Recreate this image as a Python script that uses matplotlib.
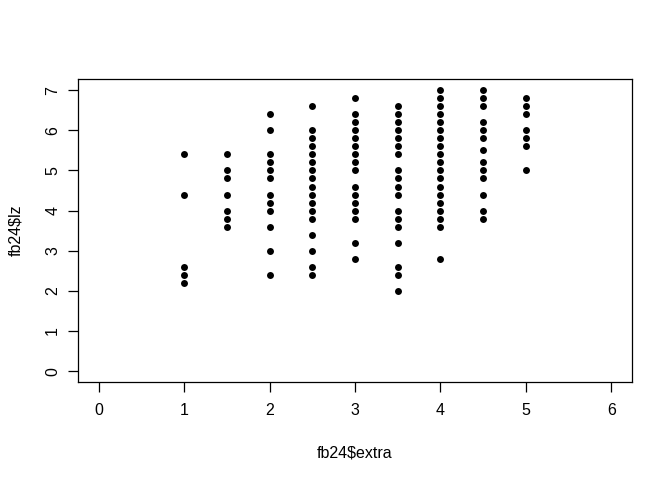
import matplotlib
matplotlib.use("Agg")
import matplotlib.pyplot as plt

# x levels of fb24$extra and the fb24$lz values observed at each level
extra_levels = [1.0, 1.5, 2.0, 2.5, 3.0, 3.5, 4.0, 4.5, 5.0]
lz_extra_1_0 = [5.4, 4.4, 2.6, 2.4, 2.2]
lz_extra_1_5 = [5.4, 5.0, 4.8, 4.4, 4.0, 3.8, 3.6]
lz_extra_2_0 = [6.4, 6.0, 5.4, 5.2, 5.0, 4.8, 4.4, 4.2, 4.0, 3.6, 3.0, 2.4]
lz_extra_2_5 = [6.6, 6.0, 5.8, 5.6, 5.4, 5.2, 5.0, 4.8, 4.6, 4.4, 4.2, 4.0, 3.8,
                3.4, 3.0, 2.6, 2.4]
lz_extra_3_0 = [6.8, 6.4, 6.2, 6.0, 5.8, 5.6, 5.4, 5.2, 5.0, 4.6, 4.4, 4.2, 4.0,
                3.8, 3.2, 2.8]
lz_extra_3_5 = [6.6, 6.4, 6.2, 6.0, 5.8, 5.6, 5.4, 5.0, 4.8, 4.6, 4.4, 4.0, 3.8,
                3.6, 3.2, 2.6, 2.4, 2.0]
lz_extra_4_0 = [7.0, 6.8, 6.6, 6.4, 6.2, 6.0, 5.8, 5.6, 5.4, 5.2, 5.0, 4.8, 4.6,
                4.4, 4.2, 4.0, 3.8, 3.6, 2.8]
lz_extra_4_5 = [7.0, 6.8, 6.6, 6.2, 6.0, 5.8, 5.5, 5.2, 5.0, 4.8, 4.4, 4.0, 3.8]
lz_extra_5_0 = [6.8, 6.6, 6.4, 6.0, 5.8, 5.6, 5.0]

lz_groups = [lz_extra_1_0, lz_extra_1_5, lz_extra_2_0, lz_extra_2_5, lz_extra_3_0,
             lz_extra_3_5, lz_extra_4_0, lz_extra_4_5, lz_extra_5_0]

x_ticks = [0, 1, 2, 3, 4, 5, 6]
y_ticks = [0, 1, 2, 3, 4, 5, 6, 7]
x_label = r"fb24\$extra"
y_label = r"fb24\$lz"

extra = []
lz = []
for lvl, vals in zip(extra_levels, lz_groups):
    extra.extend([lvl] * len(vals))
    lz.extend(vals)

plt.rcParams['font.family'] = ['Liberation Sans', 'DejaVu Sans']

fig = plt.figure(figsize=(6.72, 4.8), dpi=100)
ax = fig.add_axes([78.3 / 672, 1 - 382.3 / 480, (631.7 - 78.3) / 672, (382.3 - 79) / 480])

ax.plot(extra, lz, linestyle='none', marker='o', markersize=5.0,
        color='black', markeredgewidth=0)

ax.set_xlim(-0.24, 6.24)
ax.set_ylim(-0.28, 7.28)
ax.set_xticks(x_ticks)
ax.set_yticks(y_ticks)
fs = 11.5
ax.set_xticklabels([str(t) for t in x_ticks], fontsize=fs)
ax.set_yticklabels([str(t) for t in y_ticks], fontsize=fs, rotation=90, va='center')
ax.tick_params(axis='both', direction='out', length=7, width=0.9, color='black')
ax.tick_params(axis='x', pad=8)
ax.tick_params(axis='y', pad=6)
for s in ax.spines.values():
    s.set_linewidth(0.9)
    s.set_color('black')

ax.set_xlabel(x_label, fontsize=fs, labelpad=20)
ax.set_ylabel(y_label, fontsize=fs, labelpad=16)

fig.savefig("out.png", dpi=100, facecolor='white')
